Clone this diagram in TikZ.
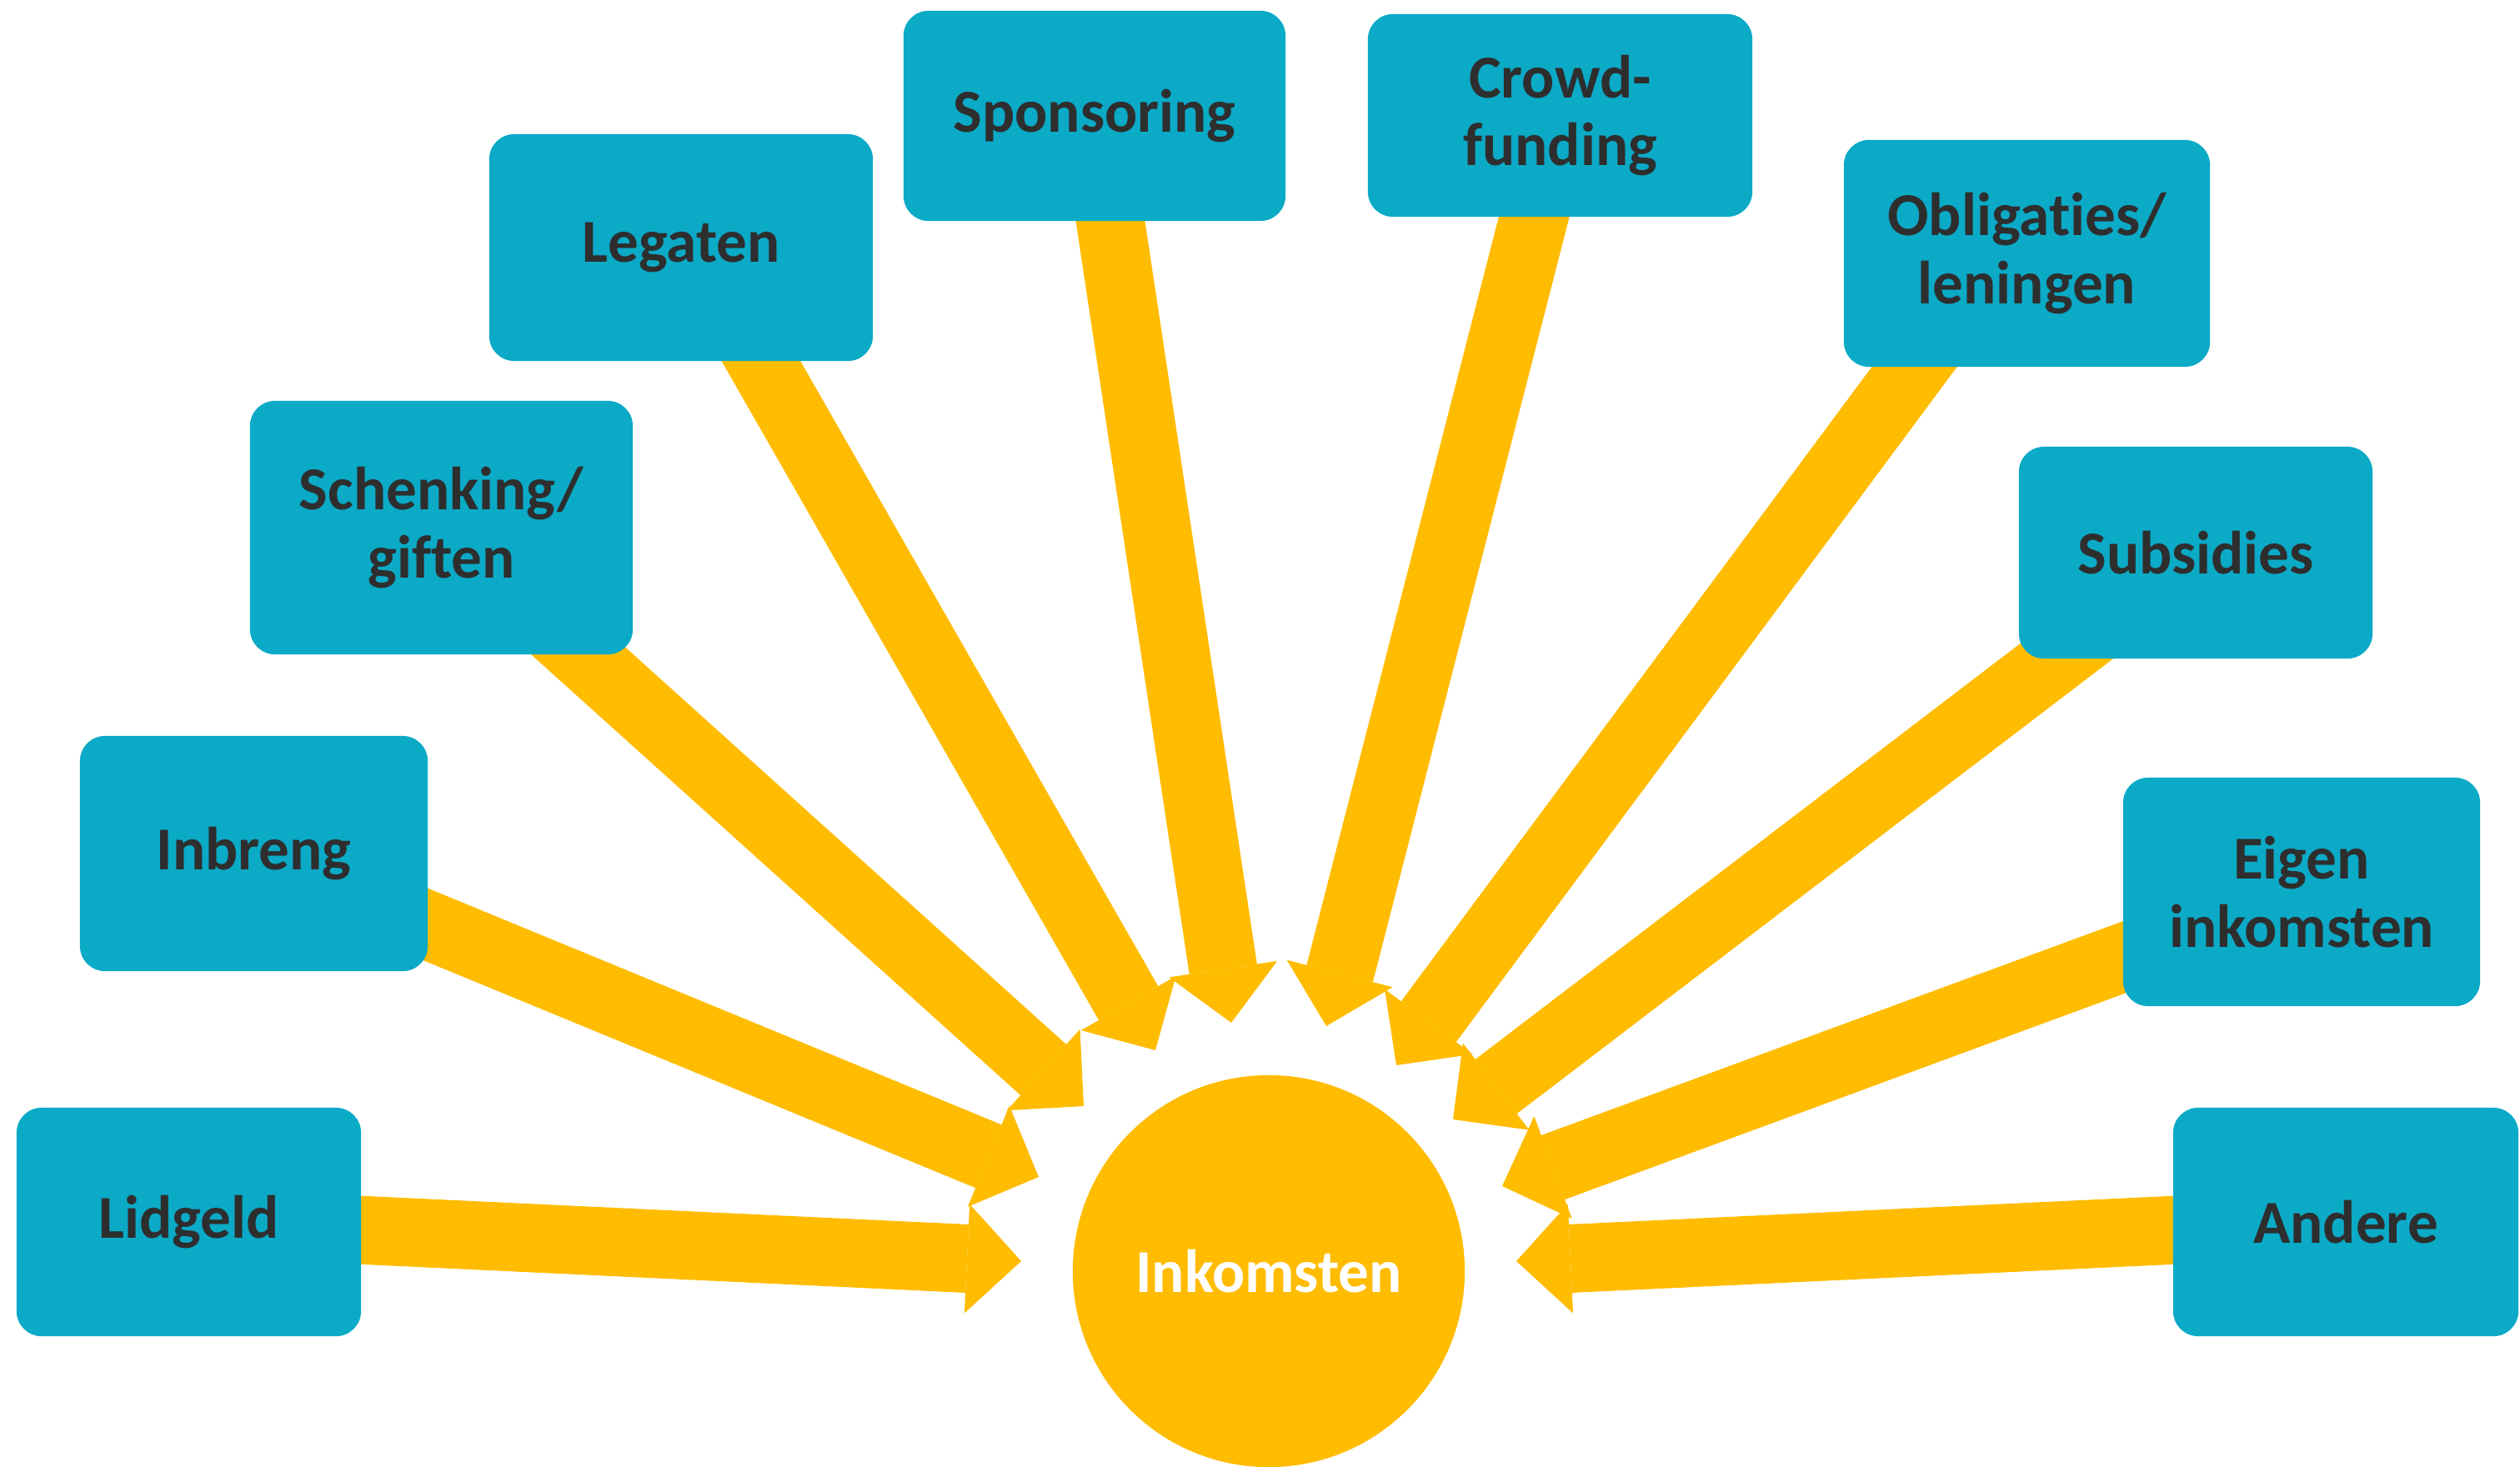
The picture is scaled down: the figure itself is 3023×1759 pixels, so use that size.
\documentclass[tikz,border=0pt]{standalone}
\usepackage{fontspec}
\setmainfont{Carlito}[Ligatures={NoCommon}]
\usetikzlibrary{arrows.meta,backgrounds}
\definecolor{teal}{HTML}{0BAAC7}
\definecolor{ylw}{HTML}{FFBC00}
\definecolor{txt}{HTML}{2E2E2E}
\begin{document}
\begin{tikzpicture}[x=0.01cm,y=-0.01cm,
  box/.style={fill=teal, rounded corners=0.3cm, inner sep=0pt, align=center,
    text=txt, font=\fontsize{20.8}{23.2}\selectfont\bfseries},
  bigarrow/.style={draw=ylw, line width=0.82cm,
    -{Triangle[width=1.31cm,length=0.65cm,line width=0pt,color=ylw,fill=ylw]}},
  hub/.style={circle, fill=ylw, minimum size=4.7cm, inner sep=0pt, text=white,
    font=\fontsize{20.8}{23.2}\selectfont\bfseries}]
\useasboundingbox (0,0) rectangle (3023,1759);

\node[box, minimum width=4.13cm, minimum height=2.74cm] (lid) at (226.5,1466) {Lidgeld};
\node[box, minimum width=4.17cm, minimum height=2.82cm] (inb) at (304.5,1024) {Inbreng};
\node[box, minimum width=4.59cm, minimum height=3.04cm] (sch) at (529.5,633) {Schenking/\\giften};
\node[box, minimum width=4.60cm, minimum height=2.72cm] (leg) at (817,297) {Legaten};
\node[box, minimum width=4.58cm, minimum height=2.52cm] (spo) at (1313,139) {Sponsoring};
\node[box, minimum width=4.61cm, minimum height=2.43cm] (crw) at (1871.5,138.5) {Crowd-\\funding};
\node[box, minimum width=4.39cm, minimum height=2.72cm] (obl) at (2431.5,304) {Obligaties/\\leningen};
\node[box, minimum width=4.24cm, minimum height=2.54cm] (sub) at (2634,663) {Subsidies};
\node[box, minimum width=4.28cm, minimum height=2.74cm] (eig) at (2761,1070) {Eigen\\inkomsten};
\node[box, minimum width=4.14cm, minimum height=2.74cm] (and) at (2814,1466) {Andere};

\node[hub] (ink) at (1522,1525) {Inkomsten};

\coordinate (tlid) at (1225,1513);
\coordinate (tinb) at (1246,1412);
\coordinate (tsch) at (1300,1327);
\coordinate (tleg) at (1386,1260);
\coordinate (tspo) at (1477,1227);
\coordinate (tcrw) at (1591,1231);
\coordinate (tobl) at (1675,1278);
\coordinate (tsub) at (1743,1343);
\coordinate (teig) at (1802,1423);
\coordinate (tand) at (1819,1513);

\begin{pgfonlayer}{background}
\draw[bigarrow] (lid.center) -- (tlid);
\draw[bigarrow] (inb.center) -- (tinb);
\draw[bigarrow] (sch.center) -- (tsch);
\draw[bigarrow] ([xshift=0.18cm]leg.center) -- (tleg);
\draw[bigarrow] (spo.center) -- (tspo);
\draw[bigarrow] (crw.center) -- (tcrw);
\draw[bigarrow] ([xshift=-0.34cm]obl.center) -- (tobl);
\draw[bigarrow] (sub.center) -- (tsub);
\draw[bigarrow] (eig.center) -- (teig);
\draw[bigarrow] (and.center) -- (tand);
\end{pgfonlayer}
\end{tikzpicture}
\end{document}
